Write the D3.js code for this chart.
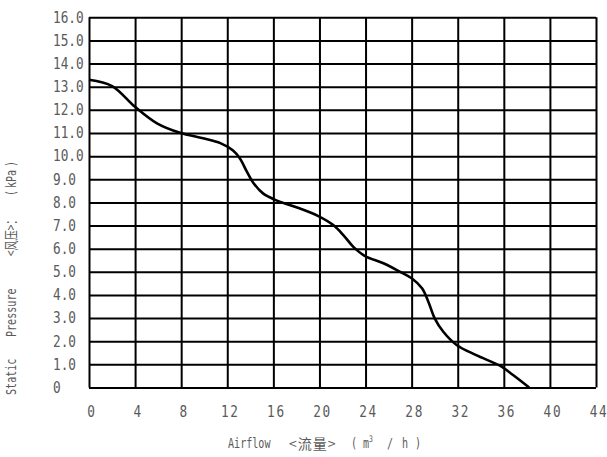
<!DOCTYPE html>
<html>
<head>
<meta charset="utf-8">
<script src="https://cdn.jsdelivr.net/npm/d3@7"></script>
<style>
  body { margin: 0; background: #fff; }
  .lbl { font-family: "DejaVu Sans Mono", monospace; fill: #5a5a5a; }
  .cjk { font-family: "Noto Sans CJK SC", sans-serif; fill: #5a5a5a; }
</style>
</head>
<body>
<svg id="chart" width="607" height="457"></svg>
<script>
// airflow (m3/h) and static pressure (kPa)
const airflow  = [0, 2, 4, 5.9, 7.9, 9.9, 11.4, 12.5, 13.1, 13.7, 14.3, 15.1, 16.2, 18, 19.9, 21.2, 22.07, 22.94, 23.96, 25.55, 27, 28, 28.9, 29.45, 30, 30.75, 31.9, 33.6, 35.7, 36.8, 38.2];
const pressure = [13.3, 13.03, 12.13, 11.42, 11.01, 10.77, 10.56, 10.24, 9.9, 9.33, 8.82, 8.39, 8.1, 7.79, 7.41, 7.02, 6.59, 6.08, 5.68, 5.37, 5.0, 4.72, 4.29, 3.71, 2.99, 2.41, 1.84, 1.4, 0.93, 0.54, 0];

const xTicks = [0, 4, 8, 12, 16, 20, 24, 28, 32, 36, 40, 44];
const yTicks = [0, 1, 2, 3, 4, 5, 6, 7, 8, 9, 10, 11, 12, 13, 14, 15, 16];

let margin = {left: 89, top: 17.3};
let width = 507, height = 370.2;
let squeeze = 0.72;  // narrow CAD-like lettering

let svg = d3.select("#chart");
let g = svg.append("g")
    .attr("transform", "translate(" + margin.left + "," + margin.top + ")");

let xScale = d3.scaleLinear().domain([0, 44]).range([0, width]);
let yScale = d3.scaleLinear().domain([0, 16]).range([height, 0]);

// grid + x labels
let xAxis = d3.axisBottom(xScale)
    .tickValues(xTicks)
    .tickSize(-height)
    .tickFormat(d3.format("d"));
let gx = g.append("g")
    .attr("transform", "translate(0," + height + ")")
    .call(xAxis);
gx.select(".domain").remove();
gx.selectAll("line").attr("stroke", "#000").attr("stroke-width", 2);
gx.selectAll("text")
    .attr("class", "lbl")
    .attr("y", 19)
    .attr("x", 3)
    .attr("transform", "scale(0.85,1)")
    .style("letter-spacing", "2px")
    .style("font-size", "15px");

let yAxis = d3.axisLeft(yScale)
    .tickValues(yTicks)
    .tickSize(-width)
    .tickFormat(d => d === 0 ? "0" : d3.format(".1f")(d));
let gy = g.append("g").call(yAxis);
gy.select(".domain").remove();
gy.selectAll("line").attr("stroke", "#000").attr("stroke-width", 2);
gy.selectAll("text")
    .attr("class", "lbl")
    .attr("text-anchor", "start")
    .attr("x", -36 / 0.85)
    .attr("transform", "scale(0.85,1)")
    .style("font-size", "15px");

// curve
let line = d3.line()
    .x((d, i) => xScale(airflow[i]))
    .y((d) => yScale(d))
    .curve(d3.curveCatmullRom.alpha(0.5));

g.append("path")
    .attr("d", line(pressure))
    .attr("fill", "none")
    .attr("stroke", "#000")
    .attr("stroke-width", 2.6);

// axis titles
let xt = svg.append("text")
    .attr("class", "lbl")
    .attr("transform", "translate(228,448) scale(" + squeeze + ",1)")
    .style("font-size", "14px");
xt.append("tspan").attr("x", 0).text("Airflow");
xt.append("tspan").attr("x", 123 / squeeze).text("(");
xt.append("tspan").attr("x", 135 / squeeze).text("m");
xt.append("tspan").attr("dy", -6).style("font-size", "9px").text("3");
xt.append("tspan").attr("dy", 6).attr("x", 159 / squeeze).text("/");
xt.append("tspan").attr("x", 174 / squeeze).text("h");
xt.append("tspan").attr("x", 187 / squeeze).text(")");

svg.append("text")
    .attr("class", "cjk")
    .attr("x", 289)
    .attr("y", 449)
    .style("font-size", "14px")
    .style("letter-spacing", "1px")
    .text("<流量>");

let yt = svg.append("text")
    .attr("class", "lbl")
    .attr("transform", "translate(16,395) rotate(-90) scale(" + squeeze + ",1)")
    .style("font-size", "14px");
yt.append("tspan").attr("x", 0).text("Static");
yt.append("tspan").attr("x", 58 / squeeze).text("Pressure");
yt.append("tspan").attr("x", 139 / squeeze).attr("class", "cjk").text("<风压>：");
yt.append("tspan").attr("x", 199 / squeeze).text("(");
yt.append("tspan").attr("x", 207 / squeeze).text("kPa");
yt.append("tspan").attr("x", 228 / squeeze).text(")");
</script>
</body>
</html>
